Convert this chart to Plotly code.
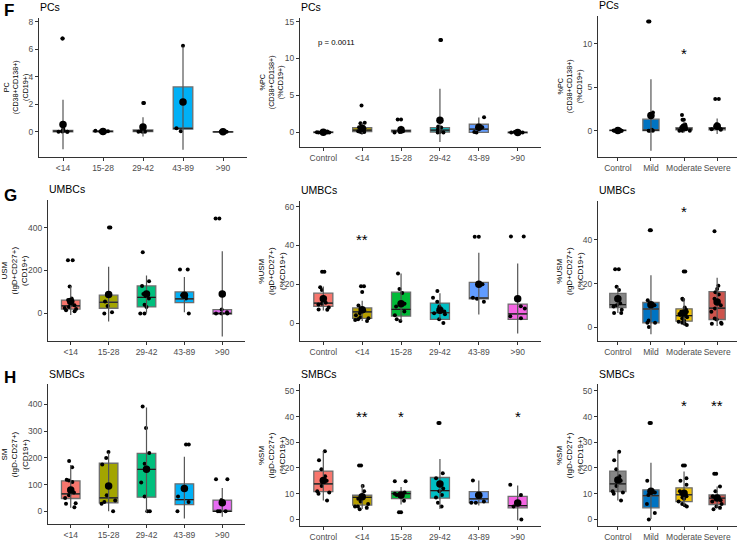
import plotly.graph_objects as go

W, H = 741, 542

# ---------------- categories & palettes ----------------
AGE5 = ["<14", "15-28", "29-42", "43-89", ">90"]
AGE6 = ["Control", "<14", "15-28", "29-42", "43-89", ">90"]
SEV = ["Control", "Mild", "Moderate", "Severe"]

COL5 = ["#F8766D", "#A3A500", "#00BF7D", "#00B0F6", "#E76BF3"]
COL6 = ["#F8766D", "#B79F00", "#00BA38", "#00BFC4", "#619CFF", "#F564E3"]
COLS = ["#868686", "#0073C2", "#EFC000", "#CD534C"]

# ---------------- F: PCs, counts by age ----------------
pc_age_q1 = [0.0, 0.0, 0.02, 0.19, -0.02]
pc_age_med = [0.05, 0.03, 0.07, 0.26, 0.0]
pc_age_q3 = [0.1, 0.06, 0.14, 3.27, 0.02]
pc_age_mean = [0.53, 0.03, 0.36, 2.18, 0.0]
pc_age_lo = [-1.27, 0.0, -0.34, -1.3, -0.03]
pc_age_hi = [2.33, 0.06, 1.06, 6.2, 0.03]
pc_age_pts = [
    [6.8, 6.8, 0.2, 0.12, 0.08, 0.05, 0.03, 0.0, 0.0, 0.0],
    [0.08, 0.05, 0.02, 0.0],
    [2.1, 2.1, 0.15, 0.1, 0.05, 0.0, 0.0, 0.0],
    [6.27, 0.26, 0.05],
    [0.02, 0.0, 0.0],
]

# ---------------- F: PCs, % by age ----------------
pc_pct_q1 = [-0.02, 0.1, 0.08, 0.05, 0.0, -0.05]
pc_pct_med = [0.0, 0.3, 0.2, 0.3, 0.45, 0.0]
pc_pct_q3 = [0.05, 0.63, 0.3, 0.65, 1.1, 0.03]
pc_pct_mean = [0.02, 0.55, 0.35, 1.65, 0.7, 0.0]
pc_pct_lo = [-0.1, -0.2, -0.2, -1.3, -0.1, -0.05]
pc_pct_hi = [0.15, 1.3, 0.9, 5.9, 2.0, 0.05]
pc_pct_pts = [
    [0.12, 0.05, 0.02, 0.0, 0.0, -0.02],
    [3.65, 1.3, 1.25, 0.7, 0.55, 0.4, 0.3, 0.15, 0.1, 0.05, 0.0],
    [1.75, 1.75, 0.4, 0.2, 0.15, 0.1, 0.05, 0.0],
    [12.5, 12.5, 0.8, 0.65, 0.4, 0.1, 0.05, 0.0, 0.0],
    [2.05, 0.75, 0.7, 0.05, 0.0],
    [0.05, 0.0, 0.0, -0.02],
]
pc_pct_p = "p = 0.0011"

# ---------------- F: PCs, % by severity ----------------
pc_sev_q1 = [0.0, 0.0, 0.08, 0.1]
pc_sev_med = [0.02, 0.05, 0.2, 0.25]
pc_sev_q3 = [0.05, 1.32, 0.35, 0.35]
pc_sev_mean = [0.03, 1.75, 0.4, 0.5]
pc_sev_lo = [-0.05, -2.3, -0.2, -0.4]
pc_sev_hi = [0.1, 5.9, 1.0, 1.4]
pc_sev_pts = [
    [0.1, 0.05, 0.03, 0.02, 0.0, 0.0, 0.0],
    [12.55, 12.55, 2.1, 1.75, 0.1, 0.0, 0.0, 0.0],
    [1.8, 1.25, 1.25, 0.7, 0.6, 0.5, 0.4, 0.3, 0.2, 0.15, 0.1, 0.05, 0.0, 0.0, 0.0],
    [3.65, 3.65, 0.75, 0.6, 0.5, 0.4, 0.3, 0.2, 0.15, 0.1],
]
pc_sev_stars = {"Moderate": ("*", 9.2)}

# ---------------- G: UMBCs, counts by age ----------------
usm_age_q1 = [20, 24, 30, 50, -3]
usm_age_med = [35, 52, 75, 68, 0]
usm_age_q3 = [62, 85, 128, 100, 18]
usm_age_mean = [55, 88, 90, 85, 90]
usm_age_lo = [-8, -38, 3, 5, -108]
usm_age_hi = [126, 218, 177, 170, 290]
usm_age_pts = [
    [248, 248, 125, 70, 62, 58, 55, 45, 38, 30, 25, 20, 15, 10],
    [400, 400, 90, 88, 55, 35, 5, 0],
    [285, 150, 128, 90, 80, 70, 40, 30, 0, 0],
    [205, 205, 85, 70, 0],
    [442, 442, 18, 5, 0, 0, 0],
]

# ---------------- G: UMBCs, % by age ----------------
usm_pct_q1 = [8.6, 2.4, 3.6, 1.9, 12.5, 1.9]
usm_pct_med = [10.3, 5.8, 7.0, 5.3, 12.9, 4.7]
usm_pct_q3 = [15.4, 7.8, 15.9, 10.3, 21.0, 9.8]
usm_pct_mean = [12.5, 6.9, 10.0, 6.6, 20.0, 12.5]
usm_pct_lo = [6.4, 1.0, 1.0, 1.9, 4.4, -5.4]
usm_pct_hi = [18.8, 11.5, 25.6, 15.4, 36.3, 30.7]
usm_pct_pts = [
    [26.5, 26.5, 18.5, 17, 13, 11.5, 10.5, 10, 9.5, 8, 7, 6.8],
    [19, 19, 16, 9, 7.5, 7, 6.5, 6, 5, 4, 3, 2.5, 2, 1.5, 1],
    [25.5, 17.5, 15.5, 10, 8.5, 6, 4, 2, 1],
    [16.5, 13, 11, 8.5, 6, 5, 4.5, 2, 0],
    [44.5, 44.5, 20, 13, 12.5, 11],
    [44.7, 44.7, 8.6, 7.5, 3.5, 2.5],
]
usm_pct_stars = {"<14": ("**", 44.7)}

# ---------------- G: UMBCs, % by severity ----------------
usm_sev_q1 = [9.0, 2.0, 2.7, 3.5]
usm_sev_med = [10.3, 8.3, 5.3, 8.7]
usm_sev_q3 = [15.5, 11.3, 8.4, 16.3]
usm_sev_mean = [13.0, 10.3, 6.5, 11.5]
usm_sev_lo = [6.5, -3.3, 1.2, 0.5]
usm_sev_hi = [18.5, 23.8, 13.3, 22.6]
usm_sev_pts = [
    [26.5, 26.5, 18.5, 17, 13, 11, 10, 9.5, 8, 6.5, 6.5],
    [44.5, 44.5, 12.3, 11, 10, 3, 2, 2, 0],
    [25.5, 25.5, 13, 12.5, 9, 8, 7, 7, 6, 5.5, 5, 4.5, 4, 3, 2.5, 2, 1.5, 1],
    [44, 19, 17.5, 16, 15, 13, 12, 10, 8.5, 7, 4, 3.5, 2, 1.5, 1.5],
]
usm_sev_stars = {"Moderate": ("*", 54.3)}

# ---------------- H: SMBCs, counts by age ----------------
sm_age_q1 = [48, 32, 53, 25, 0]
sm_age_med = [65, 50, 157, 44, 0]
sm_age_q3 = [114, 180, 217, 103, 42]
sm_age_mean = [80, 95, 157, 85, 32]
sm_age_lo = [13.5, 0, -5, -27, -20]
sm_age_hi = [173, 219, 389, 204, 87]
sm_age_pts = [
    [188, 165, 118, 115, 110, 75, 70, 60, 50, 30, 28, 15],
    [222, 200, 175, 60, 40, 35, 28, 0],
    [392, 312, 218, 178, 157, 108, 55, 0, 0],
    [250, 250, 55, 35, 0],
    [120, 120, 42, 0, 0, 0],
]

# ---------------- H: SMBCs, % by age ----------------
sm_pct_q1 = [10.8, 5.6, 8.1, 8.3, 6.5, 4.5]
sm_pct_med = [13.8, 8.6, 10.0, 11.2, 8.0, 5.4]
sm_pct_q3 = [18.8, 9.4, 10.9, 16.3, 10.8, 9.0]
sm_pct_mean = [15.1, 8.8, 9.5, 13.8, 9.4, 6.4]
sm_pct_lo = [7.4, 4.1, 5.8, 4.1, 5.4, -0.3]
sm_pct_hi = [26.5, 13.5, 12.6, 23.5, 15.1, 13.2]
sm_pct_pts = [
    [26.5, 23, 19.5, 16.8, 15.5, 15, 13, 11, 10.5, 10, 7.4],
    [21, 21, 13, 11, 9, 8.5, 8, 7, 6, 5, 5, 4.5, 4],
    [14.8, 14.8, 10.5, 10, 9.5, 9, 7.3, 2.8, 2.8],
    [37.5, 37.5, 18, 16, 12, 11, 9.5, 8.5, 6.5, 5],
    [15.1, 9.5, 7, 6.5, 6.5],
    [13.5, 9.5, 6.5, 5, 0],
]
sm_pct_stars = {"<14": ("**", 41.3), "15-28": ("*", 41.3), ">90": ("*", 41.3)}

# ---------------- H: SMBCs, % by severity ----------------
sm_sev_q1 = [10.8, 4.5, 6.9, 5.8]
sm_sev_med = [13.8, 9.2, 9.6, 8.3]
sm_sev_q3 = [18.8, 11.5, 12.3, 9.5]
sm_sev_mean = [15.3, 11.0, 10.2, 8.3]
sm_sev_lo = [7.4, 0.2, 5.4, 4.5]
sm_sev_hi = [26.3, 22.0, 18.6, 12.8]
sm_sev_pts = [
    [26.3, 23, 19.5, 16.8, 15.5, 15, 13, 11, 10.5, 10, 7.4],
    [37.5, 37.5, 15, 11, 10.5, 9.5, 6, 2.5, 0],
    [21, 21, 16, 15, 13.5, 11, 10, 9.5, 9, 8.5, 8, 7, 6, 5.5, 5],
    [17.8, 17.8, 12.8, 11, 9, 8.5, 8, 7.5, 7, 6, 5, 4.5, 4],
]
sm_sev_stars = {"Moderate": ("*", 45.5), "Severe": ("**", 45.5)}

# ---------------- panel layout (pixels: left, right, top, bottom) ----------------
panels = [
    dict(cats=AGE5, cols=COL5, q1=pc_age_q1, med=pc_age_med, q3=pc_age_q3, mean=pc_age_mean,
         lo=pc_age_lo, hi=pc_age_hi, pts=pc_age_pts, yr=[-1.8, 8.3], tv=[0, 2, 4, 6, 8],
         box=(39, 247, 17, 157), title="PCs", yt="PC<br>(CD38+CD138+)<br>(CD19+)", ytx=16, yts=7.2, stars={}),
    dict(cats=AGE6, cols=COL6, q1=pc_pct_q1, med=pc_pct_med, q3=pc_pct_q3, mean=pc_pct_mean,
         lo=pc_pct_lo, hi=pc_pct_hi, pts=pc_pct_pts, yr=[-1.93, 15.5], tv=[0, 5, 10, 15],
         box=(300, 541, 17, 147), title="PCs", yt="%PC<br>(CD38+CD138+)<br>(%CD19+)", ytx=272, yts=7.2, stars={}),
    dict(cats=SEV, cols=COLS, q1=pc_sev_q1, med=pc_sev_med, q3=pc_sev_q3, mean=pc_sev_mean,
         lo=pc_sev_lo, hi=pc_sev_hi, pts=pc_sev_pts, yr=[-2.98, 13.2], tv=[0, 5, 10],
         box=(598, 737, 15, 157), title="PCs", yt="%PC<br>(CD38+CD138+)<br>(%CD19+)", ytx=570, yts=7.2,
         stars=pc_sev_stars),
    dict(cats=AGE5, cols=COL5, q1=usm_age_q1, med=usm_age_med, q3=usm_age_q3, mean=usm_age_mean,
         lo=usm_age_lo, hi=usm_age_hi, pts=usm_age_pts, yr=[-128, 528], tv=[0, 200, 400],
         box=(48, 245, 201, 343), title="UMBCs", yt="USM<br>(IgD+CD27+)<br>(CD19+)", ytx=15, yts=8, stars={}),
    dict(cats=AGE6, cols=COL6, q1=usm_pct_q1, med=usm_pct_med, q3=usm_pct_q3, mean=usm_pct_mean,
         lo=usm_pct_lo, hi=usm_pct_hi, pts=usm_pct_pts, yr=[-9.2, 62.9], tv=[0, 20, 40, 60],
         box=(300, 541, 202, 343), title="UMBCs", yt="%USM<br>(IgD+CD27+)<br>(%CD19+)", ytx=272, yts=8,
         stars=usm_pct_stars),
    dict(cats=SEV, cols=COLS, q1=usm_sev_q1, med=usm_sev_med, q3=usm_sev_q3, mean=usm_sev_mean,
         lo=usm_sev_lo, hi=usm_sev_hi, pts=usm_sev_pts, yr=[-6.3, 57.8], tv=[0, 20, 40],
         box=(598, 737, 202, 343), title="UMBCs", yt="%USM<br>(IgD+CD27+)<br>(%CD19+)", ytx=570, yts=8,
         stars=usm_sev_stars),
    dict(cats=AGE5, cols=COL5, q1=sm_age_q1, med=sm_age_med, q3=sm_age_q3, mean=sm_age_mean,
         lo=sm_age_lo, hi=sm_age_hi, pts=sm_age_pts, yr=[-48, 475], tv=[0, 100, 200, 300, 400],
         box=(48, 245, 387, 528), title="SMBCs", yt="SM<br>(IgD-CD27+)<br>(CD19+)", ytx=15, yts=8, stars={}),
    dict(cats=AGE6, cols=COL6, q1=sm_pct_q1, med=sm_pct_med, q3=sm_pct_q3, mean=sm_pct_mean,
         lo=sm_pct_lo, hi=sm_pct_hi, pts=sm_pct_pts, yr=[-2.6, 52.5], tv=[0, 10, 20, 30, 40, 50],
         box=(300, 541, 387, 530), title="SMBCs", yt="%SM<br>(IgD-CD27+)<br>(%CD19+)", ytx=272, yts=8,
         stars=sm_pct_stars),
    dict(cats=SEV, cols=COLS, q1=sm_sev_q1, med=sm_sev_med, q3=sm_sev_q3, mean=sm_sev_mean,
         lo=sm_sev_lo, hi=sm_sev_hi, pts=sm_sev_pts, yr=[-2.6, 52.5], tv=[0, 10, 20, 30, 40, 50],
         box=(598, 737, 387, 530), title="SMBCs", yt="%SM<br>(IgD-CD27+)<br>(%CD19+)", ytx=570, yts=8,
         stars=sm_sev_stars),
]

FONT = "Liberation Sans, Arial, sans-serif"
AX = "#333333"
TICK = "#4D4D4D"

fig = go.Figure()
annotations = []
layout_axes = {}

for k, p in enumerate(panels, start=1):
    xa = "x" if k == 1 else f"x{k}"
    ya = "y" if k == 1 else f"y{k}"
    cats = p["cats"]
    # coloured boxes (no whiskers; the vertical line is the mean +/- SD)
    for i, c in enumerate(cats):
        fig.add_trace(go.Box(
            x=[c], q1=[p["q1"][i]], median=[p["med"][i]], q3=[p["q3"][i]],
            lowerfence=[p["q1"][i]], upperfence=[p["q3"][i]],
            fillcolor=p["cols"][i], line=dict(color="#6E6E6E", width=1.3),
            boxpoints=False, xaxis=xa, yaxis=ya, hoverinfo="skip"))
    # dark median line
    fig.add_trace(go.Box(
        x=cats, q1=p["med"], median=p["med"], q3=p["med"],
        lowerfence=p["med"], upperfence=p["med"],
        fillcolor="rgba(0,0,0,0)", line=dict(color="#1A1A1A", width=1.2),
        boxpoints=False, xaxis=xa, yaxis=ya, hoverinfo="skip"))
    # jittered sample points (invisible box carrying the points)
    xs, ys = [], []
    for c, vals in zip(cats, p["pts"]):
        xs += [c] * len(vals)
        ys += vals
    fig.add_trace(go.Box(
        x=xs, y=ys, boxpoints="all", jitter=0.8, pointpos=0,
        fillcolor="rgba(0,0,0,0)", line=dict(color="rgba(0,0,0,0)", width=0),
        marker=dict(color="black", size=4), xaxis=xa, yaxis=ya, hoverinfo="skip"))
    # mean +/- SD
    fig.add_trace(go.Scatter(
        x=cats, y=p["mean"], mode="markers",
        marker=dict(color="black", size=7.5),
        error_y=dict(type="data", symmetric=False,
                     array=[h - m for h, m in zip(p["hi"], p["mean"])],
                     arrayminus=[m - l for m, l in zip(p["mean"], p["lo"])],
                     width=0, color="#555555", thickness=1.2),
        xaxis=xa, yaxis=ya, hoverinfo="skip"))

    x0, x1, y0, y1 = p["box"]
    axis_common = dict(showline=True, linecolor=AX, linewidth=1, ticks="outside", ticklen=3,
                       tickcolor=AX, tickwidth=1, showgrid=False, zeroline=False,
                       tickfont=dict(family=FONT, size=8.5, color=TICK), fixedrange=True)
    layout_axes["xaxis" if k == 1 else f"xaxis{k}"] = dict(
        axis_common, domain=[x0 / W, x1 / W], anchor=ya, type="category", tickangle=0,
        categoryorder="array", categoryarray=cats, range=[-0.6, len(cats) - 0.4])
    layout_axes["yaxis" if k == 1 else f"yaxis{k}"] = dict(
        axis_common, domain=[1 - y1 / H, 1 - y0 / H], anchor=xa, range=p["yr"],
        tickvals=p["tv"], ticktext=[str(v) for v in p["tv"]])

    # panel title
    annotations.append(dict(xref="paper", yref="paper", x=(x0 - 1) / W, y=1 - (y0 - 11) / H,
                            xanchor="left", yanchor="middle", text=p["title"], showarrow=False,
                            font=dict(family=FONT, size=10.5, color="black")))
    # y-axis title
    annotations.append(dict(xref="paper", yref="paper", x=p["ytx"] / W, y=1 - (y0 + y1) / 2 / H,
                            xanchor="center", yanchor="middle", text=p["yt"], textangle=-90,
                            showarrow=False, align="center",
                            font=dict(family=FONT, size=p["yts"], color="black")))
    # significance stars
    for c, (txt, yv) in p["stars"].items():
        annotations.append(dict(xref=xa, yref=ya, x=c, y=yv, text=txt, showarrow=False,
                                yshift=-3, font=dict(family=FONT, size=15, color="black")))

# p-value text
annotations.append(dict(xref="x2", yref="y2", x=-0.18, y=12.2, xanchor="left", text=pc_pct_p,
                        showarrow=False, font=dict(family=FONT, size=7.8, color="black")))

# panel letters
for letter, ypx in [("F", 10), ("G", 196), ("H", 380)]:
    annotations.append(dict(xref="paper", yref="paper", x=2 / W, y=1 - ypx / H,
                            xanchor="left", yanchor="middle", text=f"<b>{letter}</b>",
                            showarrow=False, font=dict(family=FONT, size=17, color="black")))

fig.update_layout(
    width=W, height=H, autosize=False,
    margin=dict(l=0, r=0, t=0, b=0),
    paper_bgcolor="white", plot_bgcolor="white",
    showlegend=False, boxmode="overlay", boxgap=0.3,
    annotations=annotations,
    **layout_axes,
)

fig.write_html("out.html", config={"displayModeBar": False},
               post_script="document.body.style.margin='0';document.body.style.overflow='hidden';")
